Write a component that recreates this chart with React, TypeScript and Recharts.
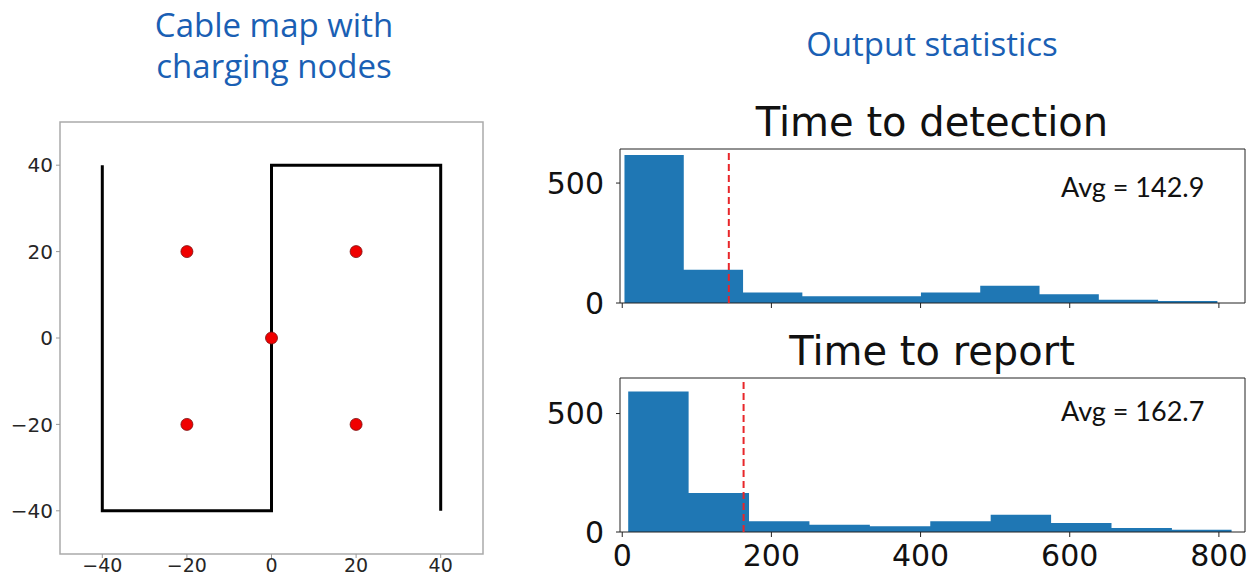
import {
  ComposedChart,
  Scatter,
  Area,
  XAxis,
  YAxis,
  ReferenceArea,
  ReferenceLine,
} from "recharts";

// cable map
const cableX = [-40, -40, 0, 0, 40, 40];
const cableY = [40, -40, -40, 40, 40, -40];
const nodeX = [-20, 20, 0, -20, 20];
const nodeY = [20, 20, 0, -20, -20];
const mapTicks = [-40, -20, 0, 20, 40];

// histograms (bin edges + counts)
const detectEdges = [3, 82.5, 162, 241.5, 321, 400.5, 480, 559.5, 639, 718.5, 798];
const detectCounts = [617, 139, 44, 28, 28, 44, 72, 37, 14, 8];
const detectAvg = 142.9;

const reportEdges = [8, 89, 170, 251, 332, 413, 494, 575, 656, 737, 817];
const reportCounts = [593, 165, 45, 31, 24, 45, 73, 38, 17, 10];
const reportAvg = 162.7;

const histXTicks = [0, 200, 400, 600, 800];
const histYTicks = [0, 500];

const BLUE = "#1f77b4";
const HEAD = "#1a5fb4";
const mplFont = "'DejaVu Sans', sans-serif";
const noteFont = "Lato, 'Open Sans', sans-serif";

const fmtMinus = (v: number) => (v < 0 ? `\u2212${Math.abs(v)}` : String(v));

function toHist(edges: number[], counts: number[]) {
  return edges.map((e, i) => ({ x: e, count: i < counts.length ? counts[i] : 0 }));
}

const cableData = cableX.map((x, i) => ({ x, y: cableY[i] }));
const nodeData = nodeX.map((x, i) => ({ x, y: nodeY[i] }));

function Histogram({
  data,
  avg,
  yMax,
  height,
  showXLabels,
  xAxisHeight,
}: {
  data: { x: number; count: number }[];
  avg: number;
  yMax: number;
  height: number;
  showXLabels: boolean;
  xAxisHeight: number;
}) {
  return (
    <ComposedChart
      width={710}
      height={height}
      data={data}
      margin={{ top: 5, right: 5, bottom: 0, left: 0 }}
    >
      <XAxis
        type="number"
        dataKey="x"
        domain={[-3, 835]}
        ticks={histXTicks}
        interval={0}
        allowDataOverflow
        axisLine={false}
        tickLine={{ stroke: "#222" }}
        tickSize={5}
        tickMargin={8}
        height={xAxisHeight}
        tickFormatter={showXLabels ? undefined : () => ""}
        tick={{ fontSize: 30, fill: "#111", fontFamily: mplFont }}
      />
      <YAxis
        type="number"
        domain={[0, yMax]}
        ticks={histYTicks}
        interval={0}
        allowDataOverflow
        width={80}
        axisLine={false}
        tickLine={{ stroke: "#222" }}
        tickSize={4}
        tickMargin={12}
        tick={{ fontSize: 30, fill: "#111", fontFamily: mplFont }}
      />
      <Area
        type="stepAfter"
        dataKey="count"
        fill={BLUE}
        fillOpacity={1}
        stroke="none"
        isAnimationActive={false}
        dot={false}
        activeDot={false}
      />
      <ReferenceLine x={avg} stroke="#e8262a" strokeWidth={2} strokeDasharray="7 4" />
      <ReferenceArea
        x1={-3}
        x2={835}
        y1={0}
        y2={yMax}
        fill="none"
        fillOpacity={0}
        stroke="#222"
        strokeWidth={1}
      />
    </ComposedChart>
  );
}

export default function App() {
  const abs = (left: number, top: number): React.CSSProperties => ({
    position: "absolute",
    left,
    top,
  });

  return (
    <div
      style={{
        position: "absolute",
        left: 0,
        top: 0,
        width: 1250,
        height: 578,
        background: "#fff",
        overflow: "hidden",
      }}
    >
      <div
        style={{
          ...abs(124, 4),
          width: 300,
          textAlign: "center",
          fontFamily: "'Open Sans', sans-serif",
          fontSize: 33,
          lineHeight: "41px",
          color: HEAD,
        }}
      >
        Cable map with
        <br />
        charging nodes
      </div>
      <div
        style={{
          ...abs(732, 23),
          width: 400,
          textAlign: "center",
          fontFamily: "'Open Sans', sans-serif",
          fontSize: 33,
          lineHeight: "41px",
          color: HEAD,
        }}
      >
        Output statistics
      </div>

      {/* cable map */}
      <div style={abs(0, 100)}>
        <ComposedChart width={500} height={478} margin={{ top: 22, right: 17, bottom: 0, left: 0 }}>
          <XAxis
            type="number"
            dataKey="x"
            domain={[-50, 50]}
            ticks={mapTicks}
            interval={0}
            allowDataOverflow
            axisLine={false}
            tickLine={{ stroke: "#999" }}
            tickSize={4}
            tickMargin={1}
            height={24}
            tickFormatter={fmtMinus}
            tick={{ fontSize: 19, fill: "#262626", fontFamily: mplFont }}
          />
          <YAxis
            type="number"
            dataKey="y"
            domain={[-50, 50]}
            ticks={mapTicks}
            interval={0}
            allowDataOverflow
            width={60}
            axisLine={false}
            tickLine={{ stroke: "#999" }}
            tickSize={4}
            tickMargin={3}
            tickFormatter={fmtMinus}
            tick={{ fontSize: 20, fill: "#262626", fontFamily: mplFont }}
          />
          <ReferenceArea
            x1={-50}
            x2={50}
            y1={-50}
            y2={50}
            fill="none"
            fillOpacity={0}
            stroke="#aaa"
            strokeWidth={1.5}
          />
          <Scatter
            data={cableData}
            line={{ stroke: "#000", strokeWidth: 3, strokeLinejoin: "miter" }}
            lineType="joint"
            shape={() => <g />}
            isAnimationActive={false}
          />
          <Scatter
            data={nodeData}
            isAnimationActive={false}
            shape={(p: any) => (
              <circle cx={p.cx} cy={p.cy} r={6} fill="#f00000" stroke="#7a1010" strokeWidth={0.8} />
            )}
          />
        </ComposedChart>
      </div>

      {/* histograms */}
      <div style={abs(540, 144)}>
        <Histogram
          data={toHist(detectEdges, detectCounts)}
          avg={detectAvg}
          yMax={642}
          height={183}
          showXLabels={false}
          xAxisHeight={24}
        />
      </div>
      <div
        style={{
          ...abs(732, 98),
          width: 400,
          textAlign: "center",
          fontFamily: mplFont,
          fontSize: 40,
          lineHeight: "48px",
          color: "#111",
        }}
      >
        Time to detection
      </div>
      <div style={{ ...abs(1061, 172), fontFamily: noteFont, fontSize: 27, lineHeight: "30px", color: "#111" }}>
        Avg = {detectAvg}
      </div>

      <div style={abs(540, 373)}>
        <Histogram
          data={toHist(reportEdges, reportCounts)}
          avg={reportAvg}
          yMax={650}
          height={205}
          showXLabels
          xAxisHeight={46}
        />
      </div>
      <div
        style={{
          ...abs(732, 327),
          width: 400,
          textAlign: "center",
          fontFamily: mplFont,
          fontSize: 40,
          lineHeight: "48px",
          color: "#111",
        }}
      >
        Time to report
      </div>
      <div style={{ ...abs(1061, 396), fontFamily: noteFont, fontSize: 27, lineHeight: "30px", color: "#111" }}>
        Avg = {reportAvg}
      </div>
    </div>
  );
}
